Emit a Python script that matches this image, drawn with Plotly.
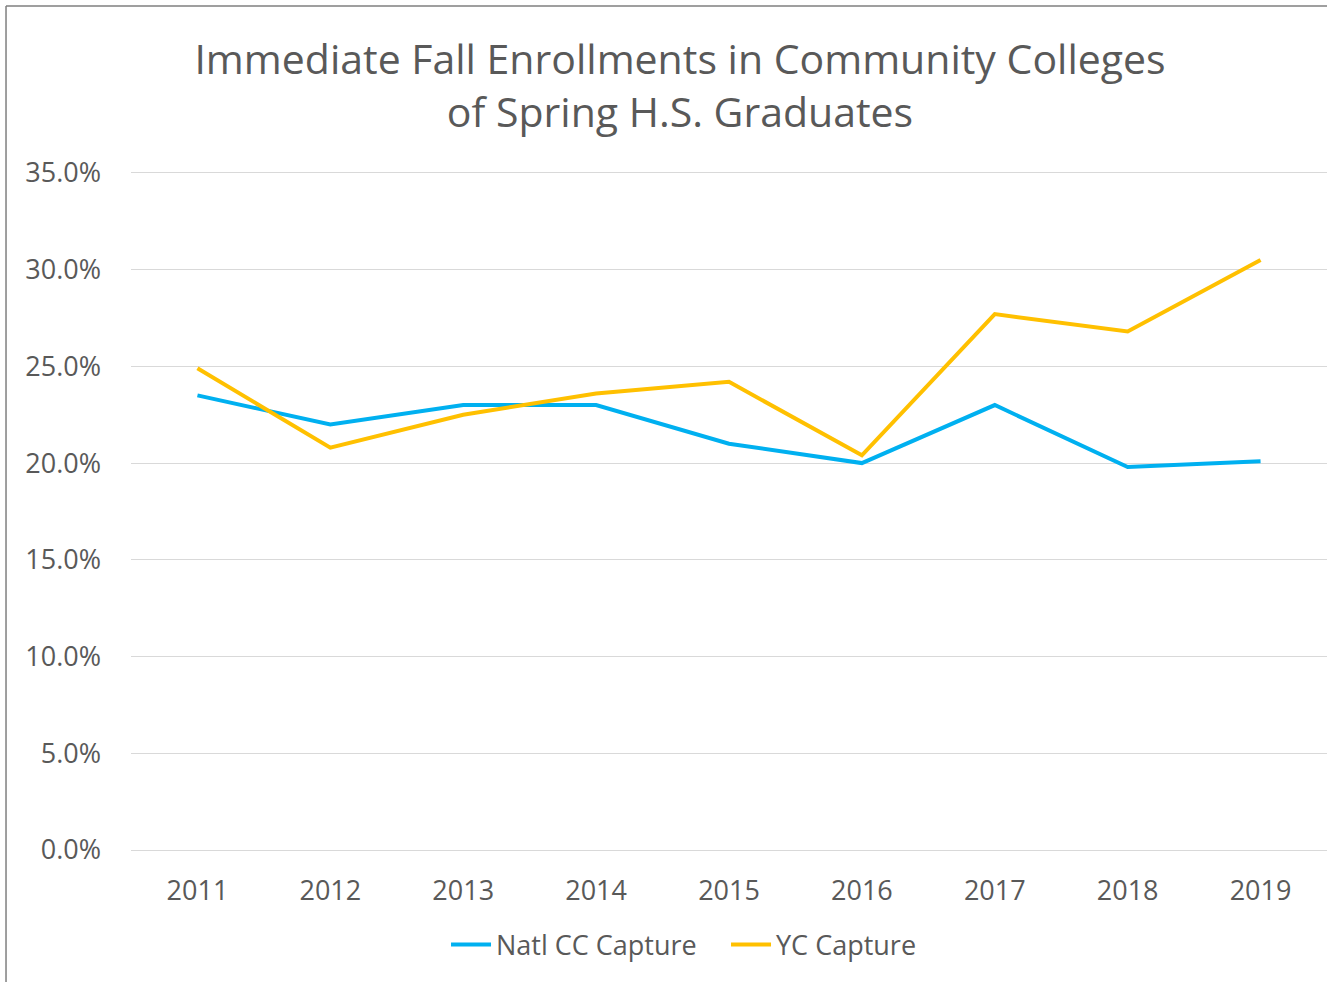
import plotly.graph_objects as go

years = ['2011', '2012', '2013', '2014', '2015', '2016', '2017', '2018', '2019']
natl_cc = [0.235, 0.220, 0.230, 0.230, 0.210, 0.200, 0.230, 0.198, 0.201]
yc_cc = [0.249, 0.208, 0.225, 0.236, 0.242, 0.204, 0.277, 0.268, 0.305]
y_ticks = [0, 0.05, 0.10, 0.15, 0.20, 0.25, 0.30, 0.35]

font_name = "Open Sans, sans-serif"
grey = "#595959"

fig = go.Figure()
fig.add_trace(go.Scatter(x=years, y=natl_cc, mode='lines', name='Natl CC Capture',
                         line=dict(color='#00B0F0', width=4)))
fig.add_trace(go.Scatter(x=years, y=yc_cc, mode='lines', name='YC Capture',
                         line=dict(color='#FFC000', width=4)))

fig.update_layout(
    width=1327, height=982,
    margin=dict(l=131, r=0, t=170, b=131),
    paper_bgcolor='white', plot_bgcolor='white',
    font=dict(family=font_name, size=27, color=grey),
    title=dict(text='Immediate Fall Enrollments in Community Colleges<br>of Spring H.S. Graduates',
               x=680 / 1327, xanchor='center', xref='container',
               y=1 - 74 / 982, yanchor='middle', yref='container',
               font=dict(family=font_name, size=41, color=grey)),
    legend=dict(orientation='h', x=0.2634, xanchor='left', y=-0.138, yanchor='middle',
                font=dict(size=27, color=grey), itemwidth=40, entrywidth=225,
                traceorder='normal'),
    showlegend=True,
)
fig.update_xaxes(type='category', range=[-0.5, 8.5], showgrid=False, showline=False,
                 ticks='', ticklabelstandoff=21, tickfont=dict(size=27, color=grey))
fig.update_yaxes(range=[-0.0005, 0.3515], tickvals=y_ticks, tickformat='.1%', showgrid=True,
                 gridcolor='#D9D9D9', gridwidth=1.3, zeroline=True, zerolinecolor='#D9D9D9',
                 zerolinewidth=1.3, showline=False,
                 ticks='', ticklabelstandoff=29, tickfont=dict(size=27, color=grey))

# outer chart border (left and top edges visible), page pixels 6 from left/top
fig.add_shape(type='line', xref='paper', yref='paper', x0=-0.1045, x1=-0.1045,
              y0=(851 - 6) / 681, y1=-0.2, line=dict(color='#7F7F7F', width=1.5))
fig.add_shape(type='line', xref='paper', yref='paper', x0=-0.1045, x1=1.01,
              y0=(851 - 6) / 681, y1=(851 - 6) / 681, line=dict(color='#7F7F7F', width=1.5))

# page body margin would shift the chart by 8px
fig.write_html("out.html", config={'displayModeBar': False},
               post_script="document.body.style.margin='0';")
